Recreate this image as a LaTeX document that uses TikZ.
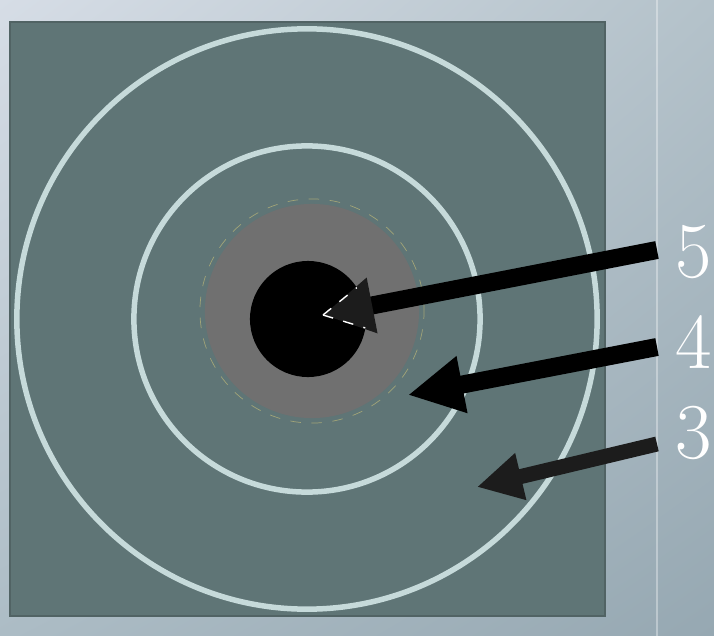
\documentclass[tikz,border=0pt]{standalone}
\usepackage{tikz}
\usetikzlibrary{arrows.meta,calc,shadings}

\definecolor{slateteal}{RGB}{95,117,118}
\definecolor{ringwhite}{RGB}{198,218,218}
\definecolor{midgray}{RGB}{112,112,112}
\definecolor{headgray}{RGB}{28,28,28}
\definecolor{bgA}{RGB}{214,221,230}
\definecolor{bgB}{RGB}{180,194,202}
\definecolor{bgC}{RGB}{172,188,197}
\definecolor{bgD}{RGB}{150,168,178}

\tikzset{
    ring/.style={draw=ringwhite, line width=0.055cm},
    digit/.style={text=white, anchor=west, inner sep=5pt, font=\fontsize{22.5}{27}\selectfont},
    pointer/.style={draw=black, line cap=butt}
}

\begin{document}
\begin{tikzpicture}[x=0.01cm, y=-0.01cm]
    \useasboundingbox (0,0) rectangle (714,636);
    % slide background
    \shade[upper left=bgA, upper right=bgB, lower left=bgC, lower right=bgD] (0,0) rectangle (714,636);
    \draw[white, opacity=0.35, line width=0.4pt] (657,0) -- (657,636);

    % target
    \coordinate (O) at (307,319);
    \coordinate (G) at (312,311);
    \coordinate (C) at (308,319);
    \filldraw[fill=slateteal, draw=slateteal!85!black, line width=0.4pt] (10,22) rectangle (605,616);
    \draw[ring] (O) circle (2.9cm);
    \draw[ring] (O) circle (1.73cm);
    \fill[midgray] (G) circle (1.07cm);
    \draw[yellow!30!slateteal, line width=0.2pt, dashed] (G) circle (1.12cm);
    \fill[black] (C) circle (0.58cm);

    % labels
    \foreach \n/\y in {5/252, 4/342, 3/433} {
        \node[digit] (l\n) at (657,\y) {\n};
    }

    \coordinate (t5) at ([yshift=0.02cm]l5.west);
    \coordinate (t4) at ([yshift=-0.05cm]l4.west);
    \coordinate (t3) at ([yshift=-0.11cm]l3.west);
    \coordinate (tip5) at (323,315);
    \coordinate (tip4) at (408,395);
    \coordinate (tip3) at (477,487);

    % arrows
    \draw[pointer, line width=0.18cm, -{Triangle[length=0.5cm, width=0.53cm, color=headgray]}] (t5) -- (tip5);
    \draw[pointer, line width=0.18cm, -{Triangle[length=0.55cm, width=0.54cm]}] (t4) -- (tip4);
    \draw[pointer, draw=headgray, line width=0.15cm, -{Triangle[length=0.45cm, width=0.45cm, color=headgray]}] (t3) -- (tip3);

    % edges of the head over the black disk
    \begin{scope}
        \clip (C) circle (0.58cm);
        \draw[white, dashed, line width=0.4pt] (tip5) -- ($(tip5)!0.57cm!28:(t5)$);
        \draw[white, dashed, line width=0.4pt] (tip5) -- ($(tip5)!0.57cm!-28:(t5)$);
    \end{scope}
\end{tikzpicture}
\end{document}
